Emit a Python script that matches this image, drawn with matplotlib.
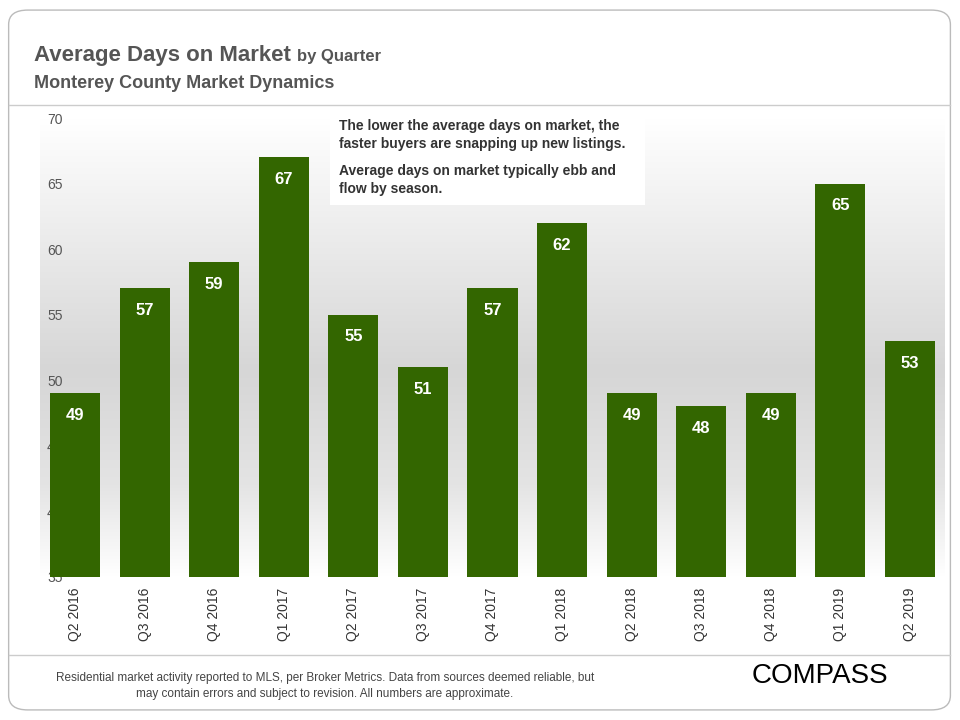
import matplotlib
matplotlib.use("Agg")
import matplotlib.pyplot as plt
import numpy as np
from matplotlib.patches import FancyBboxPatch
from matplotlib.colors import LinearSegmentedColormap

quarters = ["Q2 2016","Q3 2016","Q4 2016","Q1 2017","Q2 2017","Q3 2017","Q4 2017",
            "Q1 2018","Q2 2018","Q3 2018","Q4 2018","Q1 2019","Q2 2019"]
days = [49, 57, 59, 67, 55, 51, 57, 62, 49, 48, 49, 65, 53]
yticks = [35, 40, 45, 50, 55, 60, 65, 70]

plt.rcParams['font.family'] = ['Liberation Sans', 'DejaVu Sans']
fig = plt.figure(figsize=(9.6, 7.2), dpi=100)
fig.patch.set_facecolor('white')

fig.patches.append(FancyBboxPatch((0.009, 0.014), 0.981, 0.972, boxstyle="round,pad=0,rounding_size=0.02",
                                  transform=fig.transFigure, fill=False, edgecolor='#bbbbbb', linewidth=1))
fig.add_artist(plt.Line2D([0.009, 0.99], [1-105/720]*2, color='#cccccc', lw=1))
fig.add_artist(plt.Line2D([0.009, 0.99], [1-655/720]*2, color='#cccccc', lw=1))

ax = fig.add_axes([0.042, 0.199, 0.942, 0.637])
cmap = LinearSegmentedColormap.from_list('bg', [(0, '#ffffff'), (0.55, '#d6d6d6'), (0.8, '#e4e4e4'), (1, '#ffffff')])
grad = np.linspace(0, 1, 256).reshape(-1, 1)
ax.imshow(grad, extent=[-0.5, 12.5, 35, 70], aspect='auto', cmap=cmap,
          vmin=0, vmax=1, origin='upper', zorder=0)
x = np.arange(len(quarters))
ax.bar(x, [d - 35 for d in days], bottom=35, width=0.72, color='#336600', zorder=2)
for xi, d in zip(x, days):
    ax.text(xi, d - 1.7, str(d), ha='center', va='center', color='white',
            fontsize=12, fontweight='bold', zorder=3)
ax.set_xlim(-0.5, 12.5)
ax.set_ylim(35, 70)
ax.set_yticks(yticks)
ax.set_xticks(x)
ax.set_xticklabels(quarters, rotation=90, fontsize=10, color='#333333')
ax.tick_params(axis='y', labelsize=10, colors='#555555', length=0, pad=-16)
ax.tick_params(axis='x', length=0, pad=8)
for lab in ax.get_yticklabels():
    lab.set_zorder(4)
for s in ax.spines.values():
    s.set_visible(False)

fig.patches.append(plt.Rectangle((330/960, 1-205/720), 315/960, 90/720, transform=fig.transFigure,
                                 facecolor='white', edgecolor='none', zorder=5))
fig.text(339/960, 1-135/720, "The lower the average days on market, the\nfaster buyers are snapping up new listings.",
         fontsize=10, fontweight='bold', color='#333333', va='center', linespacing=1.4, zorder=6)
fig.text(339/960, 1-180/720, "Average days on market typically ebb and\nflow by season.",
         fontsize=10, fontweight='bold', color='#333333', va='center', linespacing=1.4, zorder=6)

fig.text(34/960, 1-55/720, "Average Days on Market", fontsize=16, fontweight='bold', color='#555555', va='center')
fig.text(297/960, 1-57/720, "by Quarter", fontsize=12, fontweight='bold', color='#555555', va='center')
fig.text(34/960, 1-83/720, "Monterey County Market Dynamics", fontsize=13, fontweight='bold', color='#555555', va='center')

fig.text(325/960, 1-686/720, "Residential market activity reported to MLS, per Broker Metrics. Data from sources deemed reliable, but\nmay contain errors and subject to revision. All numbers are approximate.",
         fontsize=8.5, color='#444444', ha='center', va='center', linespacing=1.4)
fig.text(820/960, 1-676/720, "COMPASS", fontsize=20, color='black', ha='center', va='center')

fig.savefig("out.png", dpi=100)
